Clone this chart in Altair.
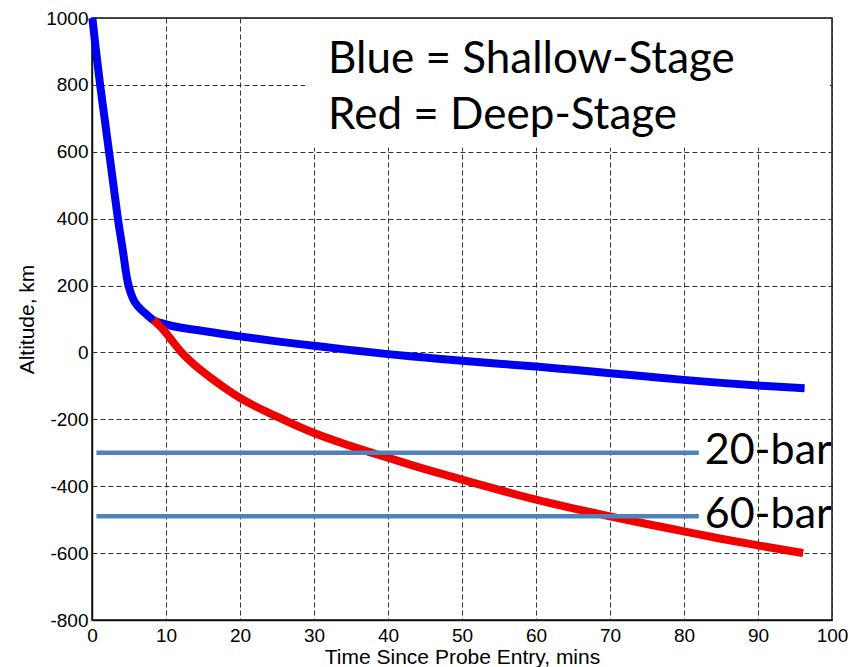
import altair as alt
import pandas as pd

# Shallow-stage (blue) trajectory
blue_t = [0.05, 0.55, 1.1, 1.7, 2.3, 2.9, 3.5, 4.2, 4.7, 5.1, 5.6, 6.3, 7.2, 8.3,
          10, 15, 20, 25, 30, 35, 40, 45, 50, 55, 60, 65, 70, 75, 80, 85, 90, 96.3]
blue_alt = [1000, 900, 800, 700, 600, 500, 400, 300, 225, 187, 158, 136, 117, 97,
            84, 64, 48, 33, 20, 7, -5, -15, -25, -34, -42, -52, -62, -72, -82, -91, -99, -107]

# Deep-stage (red) trajectory
red_t = [8.3, 9.2, 10, 11, 12.1, 14, 16, 18, 20, 25, 30, 35, 40, 45, 50, 55,
         60, 65, 70, 75, 80, 85, 90, 96.1]
red_alt = [97, 78, 58, 30, 0, -40, -75, -107, -136, -192, -241, -280, -315, -349,
           -380, -411, -440, -466, -490, -513, -535, -557, -577, -600]

# Pressure levels
level_names = ["20-bar", "60-bar"]
level_alt = [-300, -490]
level_t_start = [0.6, 0.6]
level_t_end = [82, 82]
level_label_t = [82.8, 82.8]
level_label_alt = [-334, -525]

# Legend box text
box_lines = ["Blue = Shallow-Stage", "Red = Deep-Stage"]
box_line_alt = [835, 667]
box_text_t = 31.9
box_extent = {"t1": 28.8, "t2": 99.7, "a1": 997, "a2": 612}

x_ticks = list(range(0, 101, 10))
y_ticks = list(range(-800, 1001, 200))

traj = pd.concat([
    pd.DataFrame({"t": blue_t, "alt": blue_alt, "stage": "Shallow", "order": range(len(blue_t))}),
    pd.DataFrame({"t": red_t, "alt": red_alt, "stage": "Deep", "order": range(len(red_t))}),
])
levels = pd.DataFrame({"name": level_names, "alt": level_alt, "t1": level_t_start,
                       "t2": level_t_end, "lt": level_label_t, "la": level_label_alt})
box = pd.DataFrame([box_extent])
box_txt = pd.DataFrame({"text": box_lines, "alt": box_line_alt, "t": [box_text_t] * len(box_lines)})

xscale = alt.Scale(domain=[0, 100], nice=False)
yscale = alt.Scale(domain=[-800, 1000], nice=False)

xaxis = alt.Axis(values=x_ticks, title="Time Since Probe Entry, mins", labelFlush=False,
                 labelExpr="datum.value + ''")
yaxis = alt.Axis(values=y_ticks, title="Altitude, km", labelFlush=False,
                 labelExpr="datum.value + ''")

lines = alt.Chart(traj).mark_line(strokeWidth=8, strokeCap="butt", strokeJoin="round",
                                  interpolate="monotone").encode(
    x=alt.X("t:Q", scale=xscale, axis=xaxis),
    y=alt.Y("alt:Q", scale=yscale, axis=yaxis),
    color=alt.Color("stage:N", scale=alt.Scale(domain=["Shallow", "Deep"],
                                               range=["#0000f0", "#f00000"]), legend=None),
    order="order:Q",
    detail="stage:N",
)

blue_line = lines.transform_filter(alt.datum.stage == "Shallow")
red_line = lines.transform_filter(alt.datum.stage == "Deep")

rules = alt.Chart(levels).mark_rule(color="#4f81bd", strokeWidth=4.5).encode(
    x="t1:Q", x2="t2:Q", y="alt:Q")

level_text = alt.Chart(levels).mark_text(font="Lato", fontSize=43, align="left",
                                         baseline="alphabetic", color="black").encode(
    x="lt:Q", y="la:Q", text="name:N")

box_rect = alt.Chart(box).mark_rect(color="white").encode(
    x="t1:Q", x2="t2:Q", y="a1:Q", y2="a2:Q")

box_text = alt.Chart(box_txt).mark_text(font="Lato", fontSize=44, align="left",
                                        baseline="alphabetic", color="black").encode(
    x="t:Q", y="alt:Q", text="text:N")

chart = alt.layer(blue_line, red_line, rules, box_rect, box_text, level_text).properties(
    width=740, height=602, autosize="none",
    padding={"left": 84, "top": 10, "right": 16, "bottom": 51},
).configure_view(stroke="#111", strokeWidth=1.5).configure_axis(
    grid=True, gridDash=[5, 3], gridColor="#333", gridWidth=1, gridOpacity=1,
    ticks=False, domainColor="#111", domainWidth=1.5,
    labelFont="Liberation Sans", labelFontSize=19, labelColor="black",
    titleFont="Liberation Sans", titleFontSize=21, titleFontWeight="normal", titleColor="black",
).configure_axisX(labelPadding=6, titlePadding=1).configure_axisY(labelPadding=4, titlePadding=8)

chart.save("out.html", embed_options={"renderer": "svg", "actions": False})
